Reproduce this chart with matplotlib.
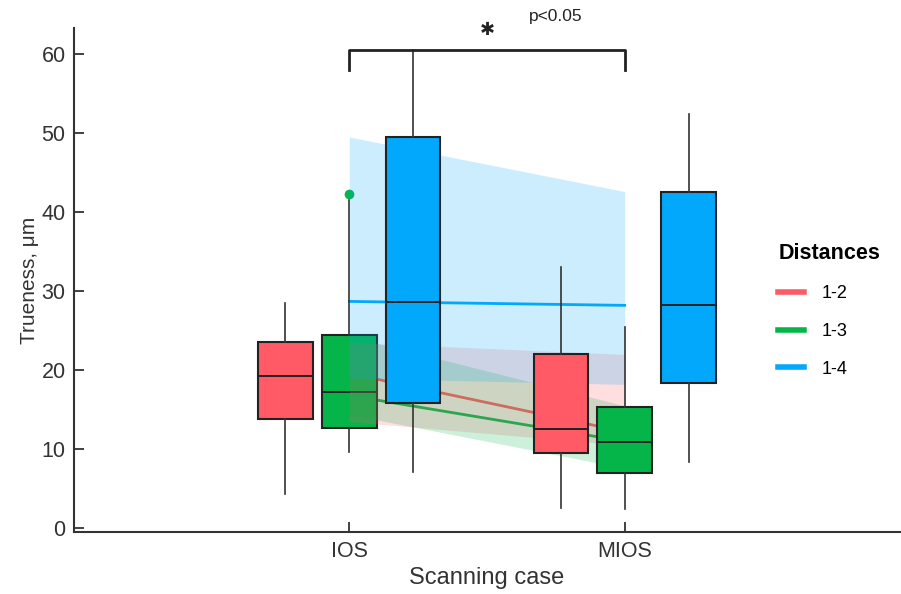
import matplotlib
matplotlib.use('Agg')
import matplotlib.pyplot as plt
from matplotlib.lines import Line2D

plt.rcParams['font.family'] = ['Liberation Sans', 'DejaVu Sans']

cases = ['IOS', 'MIOS']
distances = ['1-2', '1-3', '1-4']
colors = ['#ff5a65', '#06b54a', '#02a8fb']

# box stats per distance: [IOS, MIOS], each (whislo, q1, med, q3, whishi)
box_12 = [(4.3, 13.8, 19.3, 23.6, 28.5), (2.6, 9.5, 12.5, 22.0, 33.0)]
box_13 = [(9.7, 12.7, 17.3, 24.5, 41.5), (2.4, 7.0, 10.9, 15.4, 25.5)]
box_14 = [(7.1, 15.9, 28.6, 49.5, 60.5), (8.4, 18.4, 28.2, 42.5, 52.4)]
outliers_13 = [[42.3], []]

# trend lines with bands, IOS -> MIOS
trend_12 = [19.6, 12.2]
trend_13 = [16.8, 11.0]
trend_14 = [28.7, 28.2]
band_lo_12 = [13.5, 10.5]
band_hi_12 = [23.5, 22.0]
band_lo_13 = [14.4, 7.6]
band_hi_13 = [24.3, 15.5]
band_lo_14 = [19.0, 18.2]
band_hi_14 = [49.5, 42.6]

boxes = [box_12, box_13, box_14]
fliers = [[[], []], outliers_13, [[], []]]
trends = [trend_12, trend_13, trend_14]
bands = [(band_lo_12, band_hi_12), (band_lo_13, band_hi_13), (band_lo_14, band_hi_14)]

fig = plt.figure(figsize=(9.01, 5.94), dpi=100)
ax = fig.add_axes([0.082, 0.104, 0.917, 0.849])

xpos = [1, 2]
offsets = [-0.232, 0.0, 0.232]
width = 0.198
edge = '#222222'

for d in range(3):
    for c in range(2):
        lo, q1, med, q3, hi = boxes[d][c]
        stats = [dict(whislo=lo, q1=q1, med=med, q3=q3, whishi=hi, fliers=fliers[d][c])]
        z = 2 if (c == 0 and d < 2) else 4
        ax.bxp(stats, positions=[xpos[c] + offsets[d]], widths=width,
               patch_artist=True, showcaps=False, manage_ticks=False,
               boxprops=dict(facecolor=colors[d], edgecolor=edge, linewidth=1.5),
               medianprops=dict(color=edge, linewidth=1.4),
               whiskerprops=dict(color='#333333', linewidth=1.2),
               flierprops=dict(marker='o', markersize=7, markerfacecolor=colors[d],
                               markeredgecolor='none'),
               zorder=z)

for d in range(3):
    lo, hi = bands[d]
    ax.fill_between(xpos, lo, hi, color=colors[d], alpha=0.2, linewidth=0, zorder=2.5)
    ax.plot(xpos, trends[d], color=colors[d], linewidth=2, zorder=1.5)

# significance bracket
ax.plot([1, 1, 2, 2], [58.0, 60.5, 60.5, 58.0], color='#222222', linewidth=2.0,
        solid_joinstyle='round', clip_on=False, zorder=5)
ax.text(1.5, 63.0, '✱', ha='center', va='center', fontsize=13, color='#222222',
        clip_on=False)
ax.text(1.75, 64.8, 'p<0.05', ha='center', va='center', fontsize=12.5,
        color='#222222', clip_on=False)

ax.set_xlim(0, 3)
ax.set_ylim(-0.5, 63.3)
ax.set_xticks(xpos)
ax.set_xticklabels(cases)
ax.set_yticks([0, 10, 20, 30, 40, 50, 60])
ax.tick_params(direction='in', length=7, width=1.3, colors='#333333', labelsize=15.5, pad=6)
for s in ['top', 'right']:
    ax.spines[s].set_visible(False)
for s in ['left', 'bottom']:
    ax.spines[s].set_color('#333333')
    ax.spines[s].set_linewidth(1.5)

ax.set_xlabel('Scanning case', fontsize=17, color='#333333', labelpad=4)
ax.set_ylabel('Trueness, μm', fontsize=15, color='#333333', labelpad=2)

handles = [Line2D([0], [0], color=colors[d], linewidth=4) for d in range(3)]
leg = ax.legend(handles, distances, title='Distances', loc='upper left',
                bbox_to_anchor=(0.833, 0.605), frameon=False, fontsize=13,
                title_fontproperties={'weight': 'bold', 'size': 15.5},
                handlelength=1.4, labelspacing=1.15, handletextpad=1.0)
leg._legend_box.align = 'left'

fig.savefig('out.png', dpi=100)
